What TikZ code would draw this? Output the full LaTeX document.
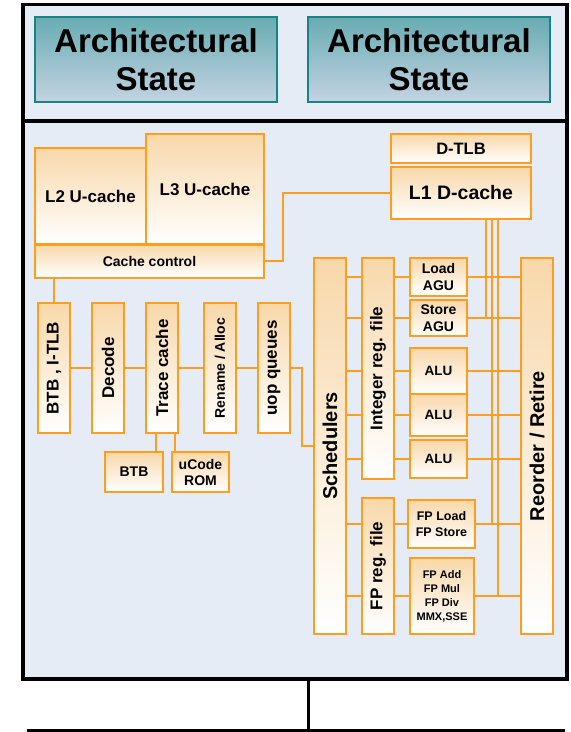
\documentclass[tikz,border=0pt]{standalone}
\usepackage{fontspec}
\setmainfont{Liberation Sans}
\definecolor{orng}{RGB}{255,158,28}
\definecolor{peach}{RGB}{248,216,170}
\definecolor{bgblue}{RGB}{230,236,246}
\definecolor{tealline}{RGB}{22,132,132}
\definecolor{tealtop}{RGB}{104,172,178}
\definecolor{tealbot}{RGB}{196,211,226}
\begin{document}
\begin{tikzpicture}[x=1pt,y=-1pt,
  fsz/.style 2 args={font=\bfseries\fontsize{#1}{#2}\selectfont},
  obox/.style={draw=orng, line width=2pt, inner sep=0pt, outer sep=0pt,
    top color=peach, bottom color=white, align=center, fsz={14}{17}},
  vlab/.style 2 args={label={[rotate=90, fsz={#1}{#1}]center:#2}},
  wire/.style={draw=orng, line width=2pt},
  archbox/.style={draw=tealline, line width=2pt, inner sep=0pt, outer sep=0pt,
    top color=tealtop, bottom color=tealbot, align=center, fsz={33}{38},
    minimum width=242, minimum height=85},
  frame/.style={draw=black, line width=3.5pt, fill=bgblue, inner sep=0pt, outer sep=0pt},
  bus/.style={draw=black, line width=3pt}
]
\useasboundingbox (0,0) rectangle (571,732);

% frames
\node[frame, minimum width=544, minimum height=116.5] (top) at (295,62.75) {};
\node[frame, minimum width=544, minimum height=558] (core) at (295,400) {};

% architectural state
\node[archbox] (as1) at (156,59.5) {Architectural\\State};
\node[archbox] (as2) at (429,59.5) {Architectural\\State};

% caches
\node[obox, minimum width=111, minimum height=96, fsz={17}{20}] (l2) at (90.5,196) {L2 U-cache};
\node[obox, minimum width=118, minimum height=110, fsz={17}{20}] (l3) at (205,189) {L3 U-cache};
\node[obox, minimum width=229, minimum height=33, fsz={14}{17}] (cc) at (149.5,261) {Cache control};
\node[obox, minimum width=140, minimum height=29, fsz={16.5}{20}] (dtlb) at (461,148.5) {D-TLB};
\node[obox, minimum width=140, minimum height=52, fsz={19.5}{22}] (l1) at (461,193) {L1 D-cache};

% front end
\node[obox, minimum width=32, minimum height=130, vlab={17}{BTB , I-TLB}] (btb) at (54,368) {};
\node[obox, minimum width=32, minimum height=130, vlab={17}{Decode}] (dec) at (108,368) {};
\node[obox, minimum width=32, minimum height=130, vlab={17}{Trace cache}] (tc) at (162,368) {};
\node[obox, minimum width=32, minimum height=130, vlab={14}{Rename / Alloc}] (ren) at (220,368) {};
\node[obox, minimum width=32, minimum height=130, vlab={17}{uop queues}] (uop) at (274,368) {};
\node[obox, minimum width=58, minimum height=40] (btbs) at (134,472) {BTB};
\node[obox, minimum width=57, minimum height=40, fsz={14}{16}] (ucode) at (200.5,472) {uCode\\ROM};

% execution core
\node[obox, minimum width=32, minimum height=376, vlab={20}{Schedulers}] (sch) at (330,446) {};
\node[obox, minimum width=32, minimum height=221, vlab={17}{Integer reg. file}] (ir) at (378,368.5) {};
\node[obox, minimum width=32, minimum height=136, vlab={17}{FP reg. file}] (fr) at (378,566) {};
\node[obox, minimum width=32, minimum height=376, vlab={20}{Reorder / Retire}] (ro) at (537,446) {};

\node[obox, minimum width=57, minimum height=38] (lagu) at (438.5,277) {Load\\AGU};
\node[obox, minimum width=57, minimum height=36] (sagu) at (438.5,318) {Store\\AGU};
\node[obox, line width=2.8pt, minimum width=57, minimum height=46, fsz={13.5}{16}] (alu1) at (438.5,371) {ALU};
\node[obox, line width=2.8pt, minimum width=57, minimum height=42, fsz={13.5}{16}] (alu2) at (438.5,415) {ALU};
\node[obox, minimum width=57, minimum height=38, fsz={13.5}{16}] (alu3) at (438.5,459) {ALU};
\node[obox, minimum width=67, minimum height=48, fsz={12.5}{16}] (fpls) at (441.5,524) {FP Load\\FP Store};
\node[obox, minimum width=64, minimum height=76, fsz={11}{14}] (fpadd) at (442,596) {FP Add\\FP Mul\\FP Div\\MMX,SSE};

% wires
\draw[wire] (cc.east) -- ++(19,0) |- (l1.west);
\draw[wire] (btb.north) -- (btb.north |- cc.south);
\draw[wire] (btb.east) -- (dec.west);
\draw[wire] (dec.east) -- (tc.west);
\draw[wire] (tc.east) -- (ren.west);
\draw[wire] (ren.east) -- (uop.west);
\draw[wire] (uop.east) -- ++(12,0) |- (sch.west);
\draw[wire] ([xshift=-6pt]tc.south) -- ([xshift=-6pt]tc.south |- btbs.north);
\draw[wire] ([xshift=13pt]tc.south) -- ([xshift=13pt]tc.south |- ucode.north);

\foreach \u in {lagu,sagu,alu1,alu2,alu3}{
  \draw[wire] (sch.east |- \u) -- (ir.west |- \u);
  \draw[wire] (ir.east |- \u) -- (\u.west);
  \draw[wire] (\u.east) -- (ro.west |- \u);
}
\foreach \u in {fpls,fpadd}{
  \draw[wire] (sch.east |- \u) -- (fr.west |- \u);
  \draw[wire] (fr.east |- \u) -- (\u.west);
  \draw[wire] (\u.east) -- (ro.west |- \u);
}
\coordinate (v1) at (486,0);
\coordinate (v2) at (492,0);
\coordinate (v3) at (498,0);
\draw[wire] (l1.south -| v1) -- (v1 |- sagu);
\draw[wire] (l1.south -| v2) -- (v2 |- fpls);
\draw[wire] (l1.south -| v3) -- (v3 |- fpadd);

% system bus
\coordinate (tap) at (308.5,730);
\coordinate (busL) at (27,730);
\coordinate (busR) at (565,730);
\draw[bus] (core.south -| tap) -- (tap);
\draw[bus] (busL) -- (busR);
\end{tikzpicture}
\end{document}
